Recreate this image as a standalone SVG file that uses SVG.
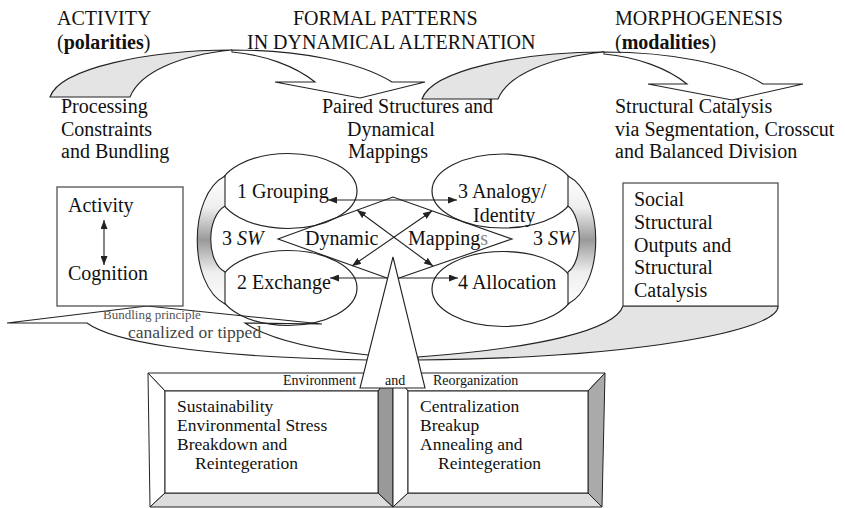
<svg xmlns="http://www.w3.org/2000/svg" width="845" height="508" viewBox="0 0 845 508">
<style>
text{font-family:"Liberation Serif","Times New Roman",serif;fill:#111}
.t20{font-size:20px}
.t17{font-size:17.5px}
.t14{font-size:14px}
.ln{fill:none;stroke:#222;stroke-width:1.1}
.sh{stroke:#222;stroke-width:1.1}
.gray{fill:#e4e4e4}
.white{fill:#fff}
.ell{fill:none;stroke:#222;stroke-width:1.2}
.box{fill:#fff;stroke:#444;stroke-width:1.2}
.arr{fill:none;stroke:#222;stroke-width:1.1;marker-start:url(#ah);marker-end:url(#ah)}
</style>
<defs>
<marker id="ah" markerUnits="userSpaceOnUse" markerWidth="9" markerHeight="7" refX="9" refY="3.5" orient="auto-start-reverse">
<path d="M0,0 L9,3.5 L0,7 Z" fill="#222"/>
</marker>
<linearGradient id="brk" x1="0" y1="0" x2="0" y2="1">
<stop offset="0" stop-color="#fff"/>
<stop offset="0.25" stop-color="#eee"/>
<stop offset="0.5" stop-color="#999"/>
<stop offset="0.75" stop-color="#eee"/>
<stop offset="1" stop-color="#fff"/>
</linearGradient>
</defs>
<rect width="845" height="508" fill="#fff"/>

<g id="connectors">
<g id="arrow-top-1">
<path class="sh gray" d="M50,97 C60,68 150,50 232,50 C180,55 140,72 130,97 Z"/>
<path class="sh white" d="M232,50 C300,50 360,62 392,82 L425,82 L360,98 L275,82 L315,82 C295,66 265,55 232,52 Z"/>
</g>
<g id="arrow-top-2">
<path class="sh gray" d="M422,99 C432,70 522,52 604,52 C552,57 508,74 498,99 Z"/>
<path class="sh white" d="M604,52 C672,52 732,64 763,84 L803,84 L732,100 L648,84 L687,84 C667,68 637,57 604,54 Z"/>
</g>
<g id="band">
<path class="sh gray" d="M623,306 C615,330 540,348 418,357 L418,360 C640,358 780,330 778,306 Z"/>
<path class="sh white" d="M368,355 C320,350 270,340 245,323 L322,324 L147,306 L7,323 L87,323 C110,340 190,357 368,360"/>
</g>
</g>

<g id="header-activity">
<text class="t20" x="57" y="25">ACTIVITY</text>
<text class="t20" x="57" y="49">(<tspan font-weight="bold">polarities</tspan>)</text>
</g>
<g id="header-formal">
<text class="t20" x="293" y="25">FORMAL PATTERNS</text>
<text class="t20" x="247" y="49">IN DYNAMICAL ALTERNATION</text>
</g>
<g id="header-morpho">
<text class="t20" x="615" y="25">MORPHOGENESIS</text>
<text class="t20" x="615" y="49">(<tspan font-weight="bold">modalities</tspan>)</text>
</g>

<g id="sub-processing">
<text class="t20" x="61" y="113">Processing</text>
<text class="t20" x="61" y="136">Constraints</text>
<text class="t20" x="61" y="158">and Bundling</text>
</g>
<g id="sub-paired">
<text class="t20" x="322" y="113">Paired Structures and</text>
<text class="t20" x="347" y="136">Dynamical</text>
<text class="t20" x="348" y="158">Mappings</text>
</g>
<g id="sub-structural">
<text class="t20" x="615" y="113">Structural Catalysis</text>
<text class="t20" x="615" y="136">via Segmentation, Crosscut</text>
<text class="t20" x="615" y="158">and Balanced Division</text>
</g>

<g id="box-activity">
<rect class="box" x="57" y="187" width="126" height="119"/>
<text class="t20" x="68" y="212">Activity</text>
<text class="t20" x="68" y="280">Cognition</text>
<line x1="104" y1="220" x2="104" y2="265" stroke="#444" stroke-width="1.3" marker-start="url(#ah)" marker-end="url(#ah)"/>
</g>

<g id="box-social">
<rect class="box" x="623" y="183" width="155" height="123"/>
<text class="t20" x="634" y="206">Social</text>
<text class="t20" x="634" y="229">Structural</text>
<text class="t20" x="634" y="252">Outputs and</text>
<text class="t20" x="634" y="274">Structural</text>
<text class="t20" x="634" y="297">Catalysis</text>
</g>

<g id="bundling-label">
<text x="103" y="319" font-size="13" style="fill:#555">Bundling principle</text>
<text x="128" y="338" font-size="17.5" style="fill:#444">canalized or tipped</text>
</g>

<g id="e-grouping">
<ellipse class="ell" cx="288" cy="191" rx="69" ry="37.5"/>
<text class="t20" x="237" y="198">1 Grouping</text>
</g>
<g id="e-exchange">
<ellipse class="ell" cx="288" cy="288" rx="69" ry="37.5"/>
<text class="t20" x="237" y="289">2 Exchange</text>
</g>
<g id="e-analogy">
<ellipse class="ell" cx="503" cy="191" rx="71" ry="37"/>
<text class="t20" x="458" y="198">3 Analogy/</text>
<text class="t20" x="473" y="222">Identity</text>
</g>
<g id="e-allocation">
<ellipse class="ell" cx="503" cy="289" rx="71" ry="37.5"/>
<text class="t20" x="458" y="289">4 Allocation</text>
</g>

<g id="sw-left">
<path d="M225,176 C188,195 188,285 225,304 L225,272 C206,262 206,217 225,206 Z" fill="url(#brk)" stroke="#222" stroke-width="1.1"/>
<text class="t20" x="222" y="245">3 <tspan font-style="italic">SW</tspan></text>
</g>
<g id="sw-right">
<path d="M568,176 C605,195 605,285 568,304 L568,272 C583,262 583,217 568,206 Z" fill="url(#brk)" stroke="#222" stroke-width="1.1"/>
<text class="t20" x="533" y="245">3 <tspan font-style="italic">SW</tspan></text>
</g>

<g id="dynamic-mappings">
<path class="ln" d="M387,278 L278,239 L393,197 L512,239 L399,278"/>
<text class="t20" x="305" y="245">Dynamic</text>
<text class="t20" x="408" y="245">Mapping<tspan style="fill:#888">s</tspan></text>
</g>

<g id="mapping-arrows">
<line class="arr" x1="328" y1="200" x2="457" y2="200"/>
<line class="arr" x1="330" y1="278" x2="458" y2="278"/>
<line class="arr" x1="357" y1="210" x2="433" y2="266"/>
<line class="arr" x1="432" y1="211" x2="352" y2="266"/>
</g>

<g id="frame-environment">
<polygon points="148,373 393,373 378,391 165,391" fill="#fff" stroke="#222" stroke-width="1"/>
<polygon points="148,373 165,391 165,493 150,507" fill="#fff" stroke="#222" stroke-width="1"/>
<polygon points="150,507 165,493 378,493 393,507" fill="#ddd" stroke="#222" stroke-width="1"/>
<polygon points="393,373 393,507 378,493 378,391" fill="#999" stroke="#222" stroke-width="1"/>
<rect x="165" y="391" width="213" height="102" fill="#fff" stroke="#222" stroke-width="1"/>
<text class="t14" x="283" y="385">Environment</text>
<text class="t17" x="177" y="412">Sustainability</text>
<text class="t17" x="177" y="431">Environmental Stress</text>
<text class="t17" x="177" y="450">Breakdown and</text>
<text class="t17" x="195" y="469">Reintegeration</text>
</g>
<g id="frame-reorganization">
<polygon points="393,373 605,373 588,391 408,391" fill="#fff" stroke="#222" stroke-width="1"/>
<polygon points="393,373 408,391 408,493 393,507" fill="#fff" stroke="#222" stroke-width="1"/>
<polygon points="393,507 408,493 588,493 602,507" fill="#ddd" stroke="#222" stroke-width="1"/>
<polygon points="605,373 602,507 588,493 588,391" fill="#aaa" stroke="#222" stroke-width="1"/>
<rect x="408" y="391" width="180" height="102" fill="#fff" stroke="#222" stroke-width="1"/>
<text class="t14" x="433" y="385">Reorganization</text>
<text class="t17" x="420" y="412">Centralization</text>
<text class="t17" x="420" y="431">Breakup</text>
<text class="t17" x="420" y="450">Annealing and</text>
<text class="t17" x="438" y="469">Reintegeration</text>
</g>

<g id="spotlight">
<polygon points="393,257 360,388 425,388" fill="#fff" stroke="#222" stroke-width="1.1"/>
<text class="t14" x="385" y="385">and</text>
</g>
</svg>
